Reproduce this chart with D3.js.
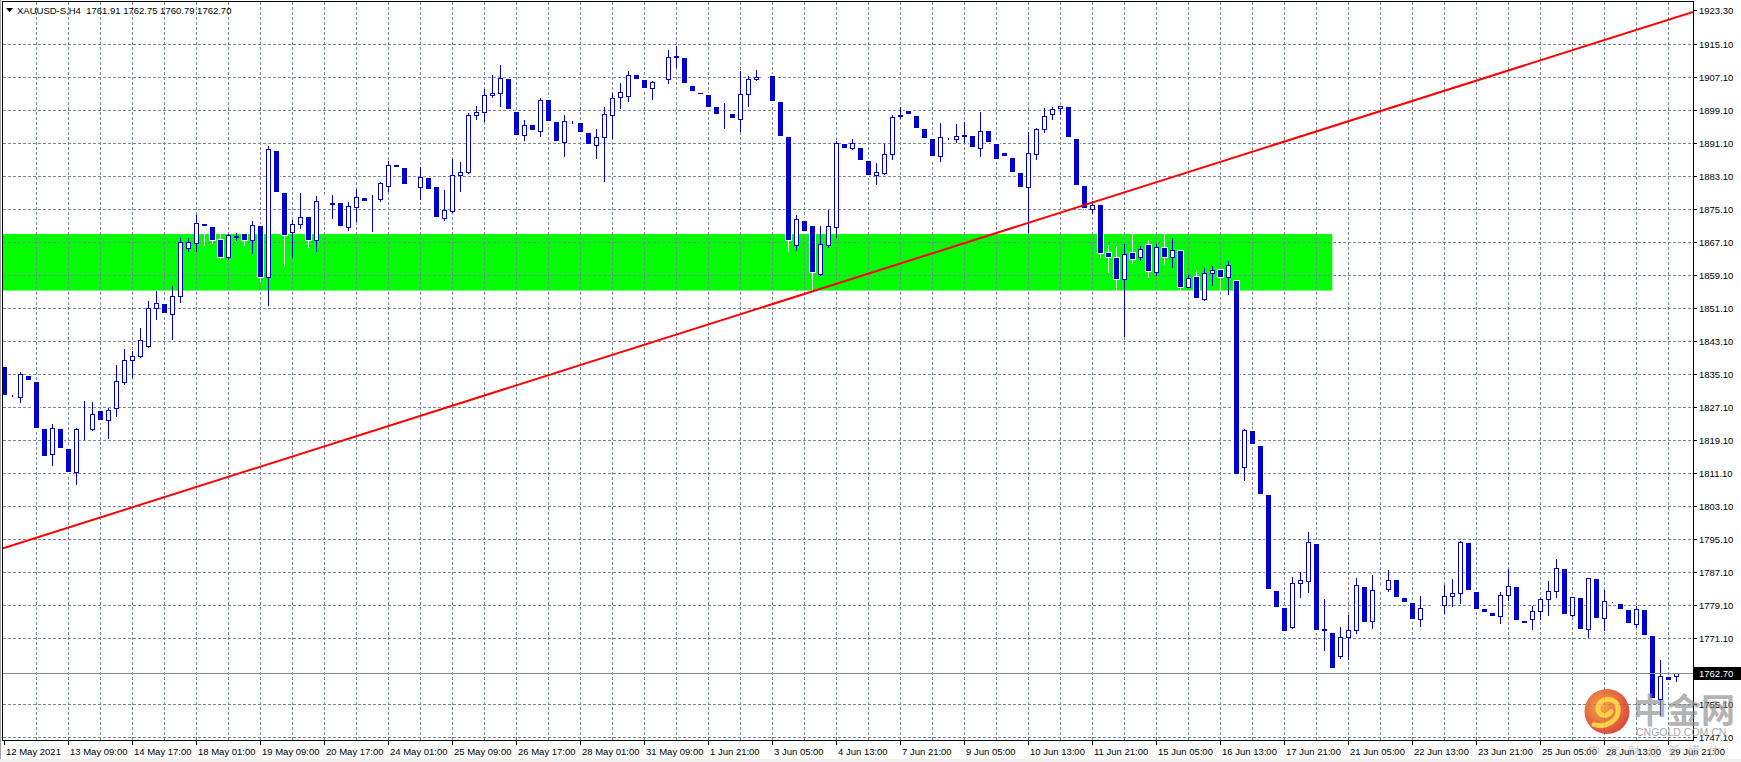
<!DOCTYPE html>
<html><head><meta charset="utf-8">
<script src="https://cdn.jsdelivr.net/npm/d3@7"></script>
<style>html,body{margin:0;padding:0;background:#fff;overflow:hidden}svg{display:block}</style>
</head><body>
<svg id="c" width="1741" height="762"></svg>
<script>
// ---- data (XAUUSD-S, H4) ----
const open = [1836.9,1830.0,1829.5,1834.7,1833.2,1821.8,1815.7,1821.8,1817.0,1811.3,
1821.8,1821.8,1826.2,1823.9,1826.9,1833.3,1838.5,1839.5,1842.0,1851.1,
1852.1,1849.8,1854.2,1865.6,1866.9,1871.5,1870.8,1867.7,1863.6,1868.3,
1869.0,1867.7,1871.1,1858.6,1889.3,1879.0,1869.7,1871.5,1873.2,1867.7,
1877.0,1876.5,1876.6,1870.9,1875.7,1877.8,1877.0,1877.5,1880.8,1885.8,
1885.1,1881.4,1880.6,1882.7,1880.5,1873.1,1874.8,1883.3,1884.1,1897.9,
1898.6,1902.7,1903.2,1906.7,1898.7,1893.0,1895.5,1894.2,1901.6,1896.3,
1891.5,1896.2,1895.9,1893.5,1890.8,1892.6,1897.9,1902.3,1902.5,1907.7,
1906.5,1904.4,1906.1,1906.6,1911.9,1911.7,1905.0,1903.4,1902.8,1899.8,
1898.4,1898.2,1896.9,1903.0,1906.6,1907.3,1907.4,1901.0,1892.6,1866.4,
1872.3,1871.1,1859.5,1866.4,1870.9,1890.9,1889.9,1889.9,1886.8,1883.3,
1884.0,1888.4,1897.6,1898.9,1897.7,1894.6,1892.2,1887.9,1892.3,1892.1,
1892.9,1892.8,1889.9,1894.0,1890.9,1888.7,1887.5,1883.8,1880.4,1888.4,
1894.5,1898.1,1899.6,1899.9,1892.2,1880.8,1875.1,1876.2,1864.6,1863.4,
1858.1,1864.4,1863.5,1866.4,1860.0,1865.8,1863.6,1864.9,1856.3,1858.8,
1853.4,1859.6,1860.3,1858.8,1857.6,1812.7,1821.4,1817.7,1805.8,1782.6,
1778.4,1773.9,1784.4,1785.1,1794.0,1773.1,1772.5,1766.9,1771.3,1773.1,
1783.6,1775.4,1783.0,1783.0,1785.2,1780.9,1779.7,1775.7,1778.6,1779.0,
1779.1,1781.3,1782.2,1794.1,1782.3,1778.2,1777.2,1776.4,1781.5,1783.5,
1775.3,1775.7,1777.6,1780.6,1782.5,1787.9,1776.8,1780.9,1773.3,1785.5,
1775.9,1779.9,1779.4,1778.0,1774.5,1778.0,1771.7,1756.5,1761.6,1761.91];
const high = [1837.5,1830.2,1835.7,1835.2,1833.8,1822.3,1823.0,1822.2,1817.5,1822.2,
1828.6,1828.3,1826.6,1826.9,1837.4,1841.2,1840.8,1846.4,1852.9,1855.3,
1852.6,1856.4,1868.4,1868.1,1873.7,1871.8,1871.0,1869.0,1869.0,1869.3,
1869.3,1872.3,1871.5,1890.5,1890.0,1879.5,1872.5,1879.0,1873.5,1878.3,
1878.0,1878.6,1877.0,1876.9,1879.9,1878.2,1878.6,1881.8,1886.9,1886.2,
1885.5,1882.0,1885.4,1883.2,1881.0,1879.8,1887.2,1886.5,1898.4,1900.1,
1904.2,1907.7,1910.1,1907.2,1899.2,1896.8,1896.0,1902.0,1902.1,1896.7,
1897.9,1896.4,1896.3,1893.9,1894.6,1899.8,1903.2,1905.6,1908.6,1908.1,
1906.9,1906.2,1906.8,1913.7,1914.7,1912.1,1905.4,1903.8,1903.2,1900.2,
1900.8,1898.6,1908.6,1907.4,1908.9,1907.8,1907.8,1901.4,1893.0,1873.7,
1873.0,1871.5,1871.1,1874.9,1891.7,1891.3,1892.1,1890.3,1887.2,1886.3,
1890.9,1898.0,1900.0,1899.3,1898.1,1895.0,1892.6,1896.1,1892.4,1895.8,
1896.3,1893.2,1898.7,1894.4,1891.3,1889.1,1887.9,1884.2,1893.9,1894.9,
1899.7,1900.0,1900.1,1900.3,1892.6,1881.2,1877.1,1876.5,1866.5,1866.1,
1866.7,1869.1,1866.2,1867.7,1866.7,1869.1,1868.1,1865.2,1859.2,1860.5,
1860.8,1861.4,1860.6,1862.6,1858.0,1821.9,1821.8,1818.1,1806.2,1783.0,
1778.8,1785.9,1787.1,1796.8,1794.4,1780.6,1773.0,1773.9,1776.8,1785.8,
1784.0,1786.4,1783.5,1787.7,1785.6,1781.3,1780.1,1781.4,1779.0,1779.4,
1783.9,1785.4,1794.8,1794.5,1782.7,1778.6,1777.6,1782.4,1787.9,1783.9,
1775.7,1778.9,1780.8,1785.0,1790.3,1788.3,1781.1,1781.3,1785.7,1785.9,
1782.8,1780.0,1779.8,1778.4,1779.0,1778.4,1772.1,1765.8,1762.0,1762.75];
const low = [1829.5,1829.8,1828.5,1833.0,1821.5,1814.8,1813.0,1816.8,1811.0,1808.6,
1819.5,1821.6,1823.6,1819.6,1825.1,1832.7,1834.5,1839.4,1841.8,1848.4,
1849.5,1843.7,1852.7,1865.1,1865.1,1866.5,1866.9,1863.4,1863.1,1867.7,
1866.5,1864.4,1857.6,1851.9,1879.0,1861.6,1863.6,1870.6,1865.9,1865.1,
1875.5,1873.1,1870.5,1870.1,1872.3,1876.5,1869.9,1877.0,1879.5,1885.0,
1880.8,1880.5,1877.7,1879.4,1872.8,1872.5,1874.5,1879.6,1884.0,1897.1,
1896.6,1902.4,1900.2,1898.8,1892.7,1891.9,1894.0,1892.9,1896.1,1891.3,
1888.0,1896.0,1893.5,1890.6,1887.6,1882.0,1892.5,1899.7,1901.4,1906.4,
1904.1,1901.8,1905.3,1905.8,1909.7,1905.1,1903.3,1902.8,1899.5,1897.8,
1894.9,1896.8,1894.1,1900.2,1906.5,1906.8,1900.9,1892.4,1865.1,1865.2,
1869.4,1855.7,1859.2,1866.0,1868.5,1889.6,1889.8,1886.6,1883.0,1881.2,
1883.7,1887.3,1897.2,1897.6,1894.4,1892.0,1887.4,1886.7,1892.2,1891.3,
1891.3,1889.6,1888.1,1890.8,1886.9,1887.4,1883.7,1880.1,1869.6,1887.4,
1893.8,1896.9,1898.3,1892.2,1880.5,1875.0,1874.1,1863.6,1860.0,1855.4,
1844.4,1862.2,1862.8,1858.6,1859.2,1861.8,1861.0,1855.3,1856.2,1853.5,
1853.0,1856.8,1855.3,1854.6,1810.5,1809.5,1817.7,1805.6,1782.6,1778.2,
1772.4,1773.5,1781.2,1782.4,1772.6,1768.3,1763.5,1766.4,1766.1,1772.3,
1774.6,1773.5,1782.5,1782.6,1780.7,1779.4,1775.3,1774.1,1778.2,1778.6,
1777.3,1778.9,1779.7,1782.2,1777.8,1777.0,1776.0,1774.9,1780.4,1775.0,
1774.2,1773.4,1775.7,1776.8,1781.0,1776.5,1776.6,1773.0,1771.5,1775.5,
1773.1,1779.8,1777.7,1774.2,1773.8,1771.5,1756.1,1752.4,1760.6,1760.79];
const close = [1830.1,1830.1,1835.1,1833.6,1822.2,1815.4,1822.0,1817.3,1811.5,1821.8,
1821.9,1825.4,1824.1,1826.5,1833.4,1838.5,1839.5,1843.3,1851.1,1852.3,
1850.0,1854.2,1867.1,1867.1,1871.7,1871.1,1867.7,1863.6,1868.9,1868.7,
1867.7,1871.3,1858.6,1889.6,1879.4,1868.9,1871.5,1873.3,1867.7,1877.0,
1877.0,1876.6,1871.1,1875.9,1878.0,1877.0,1877.1,1881.4,1885.8,1885.4,
1881.3,1881.4,1882.9,1879.9,1873.3,1874.9,1883.3,1884.1,1897.9,1898.6,
1902.7,1903.2,1906.9,1899.3,1893.2,1895.6,1894.4,1901.5,1896.6,1891.7,
1896.5,1896.3,1893.9,1891.0,1892.6,1898.1,1902.0,1903.5,1907.6,1906.8,
1904.6,1905.9,1906.1,1911.9,1912.3,1905.6,1903.8,1903.2,1900.0,1898.3,
1898.5,1897.2,1903.0,1906.6,1907.1,1907.3,1901.4,1892.9,1867.7,1872.7,
1869.9,1859.8,1866.6,1871.0,1891.1,1890.0,1891.1,1887.1,1883.4,1884.1,
1888.4,1897.4,1898.0,1898.1,1894.9,1892.5,1887.9,1892.6,1892.4,1892.8,
1893.0,1890.1,1894.2,1891.3,1887.4,1887.9,1884.2,1880.6,1888.7,1894.5,
1897.6,1899.5,1900.1,1892.7,1881.0,1875.5,1876.2,1864.6,1863.5,1858.1,
1864.2,1863.0,1865.4,1860.2,1865.9,1863.6,1865.2,1856.3,1858.4,1853.7,
1859.6,1860.3,1858.8,1861.5,1810.9,1821.6,1818.2,1806.1,1783.1,1778.7,
1772.9,1784.4,1785.2,1794.4,1773.1,1773.3,1764.0,1771.3,1773.1,1784.0,
1775.1,1782.8,1783.0,1785.2,1781.2,1779.9,1775.8,1778.4,1778.6,1779.0,
1781.4,1782.2,1794.4,1782.7,1778.3,1777.5,1776.5,1781.5,1783.7,1775.5,
1774.7,1777.7,1780.6,1782.5,1788.1,1777.0,1781.0,1773.4,1785.6,1776.0,
1780.1,1780.0,1778.2,1774.7,1778.2,1772.0,1756.6,1762.0,1761.1,1762.70];

const timeLabels = ["12 May 2021","13 May 09:00","14 May 17:00","18 May 01:00","19 May 09:00",
"20 May 17:00","24 May 01:00","25 May 09:00","26 May 17:00","28 May 01:00","31 May 09:00",
"1 Jun 21:00","3 Jun 05:00","4 Jun 13:00","7 Jun 21:00","9 Jun 05:00","10 Jun 13:00",
"11 Jun 21:00","15 Jun 05:00","16 Jun 13:00","17 Jun 21:00","21 Jun 05:00","22 Jun 13:00",
"23 Jun 21:00","25 Jun 05:00","28 Jun 13:00","29 Jun 21:00"];
const labelEvery = 8;     // bars between time labels
const gridEvery = 4;      // bars between vertical grid lines
const priceTicks = [1915.10,1907.10,1899.10,1891.10,1883.10,1875.10,1867.10,1859.10,1851.10,
1843.10,1835.10,1827.10,1819.10,1811.10,1803.10,1795.10,1787.10,1779.10,1771.10,1755.10,1747.10];
const topPrice = 1923.30;
const lastPrice = 1762.70;
const zone = {fromBar: -2, toBar: 166, top: 1869.1, bottom: 1855.4};
const trend = [{bar: 0, price: 1793.0}, {bar: 210, price: 1922.3}];
const title = "XAUUSD-S,H4  1761.91 1762.75 1760.79 1762.70";

// ---- layout ----
const L = 3, R = 1693, T = 2, B = 740;
const BLUE = "#0000cd", GRID = "#778899";
const FONT = "'Liberation Sans', Arial, sans-serif";
const n = open.length;
const x = d3.scaleLinear().domain([0, n - 1]).range([4.3, 4.3 + 8 * (n - 1)]);
const y = d3.scaleLinear().domain([1747.1, 1915.1]).range([737.3, 44.3]);
const px = i => Math.floor(x(i)) + 0.5;
const py = v => Math.round(y(v));

const svg = d3.select("#c");
svg.append("rect").attr("width", 1741).attr("height", 762).attr("fill", "#fff");
svg.append("defs").append("clipPath").attr("id", "clip")
  .append("rect").attr("x", L).attr("y", T).attr("width", R - L).attr("height", B - T);
const plot = svg.append("g").attr("clip-path", "url(#clip)");

// green zone
plot.append("rect")
  .attr("x", x(zone.fromBar)).attr("width", x(zone.toBar) - x(zone.fromBar))
  .attr("y", y(zone.top)).attr("height", y(zone.bottom) - y(zone.top))
  .attr("fill", "#00ff00");

// grid
const grid = plot.append("g").attr("stroke", GRID).attr("stroke-width", 1).attr("stroke-dasharray", "3,2");
grid.selectAll("line.h").data(priceTicks).join("line").attr("class", "h")
  .attr("x1", L).attr("x2", R).attr("y1", d => py(d) + 0.5).attr("y2", d => py(d) + 0.5);
const vBars = d3.range(gridEvery, n, gridEvery);
grid.selectAll("line.v").data(vBars).join("line").attr("class", "v")
  .attr("x1", d => px(d)).attr("x2", d => px(d)).attr("y1", T).attr("y2", B);

// candles
const bars = d3.range(n).map(i => ({i, o: open[i], h: high[i], l: low[i], c: close[i]}));
const cg = plot.append("g");
bars.forEach(d => {
  const cx = px(d.i);
  const g = cg.append("g");
  if (d.c > d.o) {
    g.append("line").attr("x1", cx).attr("x2", cx).attr("y1", py(d.h)).attr("y2", py(d.l) + 1)
      .attr("stroke", BLUE).attr("stroke-width", 1);
    const yt = py(d.c), yb = py(d.o);
    g.append("rect").attr("x", cx - 2).attr("width", 4).attr("y", yt + 0.5).attr("height", Math.max(yb - yt, 0))
      .attr("fill", "#fff").attr("stroke", BLUE).attr("stroke-width", 1);
  } else {
    g.append("line").attr("x1", cx).attr("x2", cx).attr("y1", py(d.h)).attr("y2", py(d.l) + 1)
      .attr("stroke", "#fff").attr("stroke-width", 1);
    const yt = py(d.o), yb = py(d.c);
    const hh = Math.max(yb - yt, 1);
    g.append("rect").attr("x", cx - 3.5).attr("width", 7).attr("y", yt - 1).attr("height", hh + 2).attr("fill", "#fff");
    if (d.c < d.o) {
      g.append("rect").attr("x", cx - 2.5).attr("width", 5).attr("y", yt).attr("height", hh).attr("fill", BLUE);
    }
  }
});

// current price line
plot.append("line").attr("x1", L).attr("x2", R)
  .attr("y1", py(lastPrice) + 0.5).attr("y2", py(lastPrice) + 0.5)
  .attr("stroke", GRID).attr("stroke-width", 1);

// trend line
const slope = (trend[1].price - trend[0].price) / (trend[1].bar - trend[0].bar);
const priceAt = b => trend[0].price + slope * (b - trend[0].bar);
const b0 = x.invert(L), b1 = x.invert(R);
plot.append("line").attr("x1", L).attr("x2", R)
  .attr("y1", y(priceAt(b0))).attr("y2", y(priceAt(b1)))
  .attr("stroke", "#ff0000").attr("stroke-width", 2);

// frame
svg.append("line").attr("x1", 0.5).attr("x2", 0.5).attr("y1", 0).attr("y2", 762).attr("stroke", "#a0a0a0");
svg.append("rect").attr("x", L - 0.5).attr("y", T - 0.5).attr("width", R - L + 1).attr("height", B - T + 1)
  .attr("fill", "none").attr("stroke", "#000").attr("stroke-width", 1);
svg.append("rect").attr("x", 0).attr("y", 759).attr("width", 1741).attr("height", 3).attr("fill", "#f0f0f0");

// price axis
const ya = svg.append("g").attr("font-family", FONT).attr("font-size", "9.5px").attr("fill", "#000");
const allTicks = [topPrice].concat(priceTicks);
ya.selectAll("line").data(allTicks).join("line")
  .attr("x1", R).attr("x2", R + 4).attr("y1", d => py(d) + 0.5).attr("y2", d => py(d) + 0.5)
  .attr("stroke", "#000");
ya.selectAll("text").data(allTicks).join("text")
  .attr("x", R + 6).attr("y", d => py(d) + 4).text(d => d.toFixed(2));
// current price box
ya.append("rect").attr("x", R + 1).attr("y", py(lastPrice) - 6).attr("width", 47).attr("height", 13).attr("fill", "#000");
ya.append("text").attr("x", R + 6).attr("y", py(lastPrice) + 4).attr("fill", "#fff").text(lastPrice.toFixed(2));

// time axis
const xa = svg.append("g").attr("font-family", FONT).attr("font-size", "9.5px").attr("fill", "#000");
const labelBars = timeLabels.map((t, k) => ({t, b: k * labelEvery}));
xa.selectAll("line").data(labelBars).join("line")
  .attr("x1", d => px(d.b)).attr("x2", d => px(d.b)).attr("y1", B).attr("y2", B + 5).attr("stroke", "#000");
xa.selectAll("text").data(labelBars).join("text")
  .attr("x", d => px(d.b) + 1.5).attr("y", 755).text(d => d.t);

// title
svg.append("path").attr("d", "M6,8 L13,8 L9.5,12 Z").attr("fill", "#000");
svg.append("text").attr("x", 17).attr("y", 14).attr("font-family", FONT).attr("font-size", "9.5px")
  .attr("xml:space", "preserve").attr("fill", "#000").text(title);

// watermark
const wm = svg.append("g").attr("opacity", 0.85);
const defs = svg.select("defs");
const rg = defs.append("radialGradient").attr("id", "lg").attr("cx", "40%").attr("cy", "40%").attr("r", "65%");
rg.append("stop").attr("offset", "0%").attr("stop-color", "#f39a2a");
rg.append("stop").attr("offset", "100%").attr("stop-color", "#d3261c");
wm.append("circle").attr("cx", 1607).attr("cy", 711.5).attr("r", 22.5).attr("fill", "url(#lg)");
wm.append("path").attr("transform", "translate(1607,711.5)")
  .attr("d", "M-13,13 C-2,17 13,9 11,-4 C9,-15 -7,-15 -9,-4 C-10,4 0,7 4,0")
  .attr("fill", "none").attr("stroke", "#ffc82a").attr("stroke-width", 5).attr("stroke-linecap", "round");
wm.append("text").attr("x", 1633).attr("y", 723).attr("font-family", "'Noto Sans CJK SC', sans-serif")
  .attr("font-size", "34px").attr("font-weight", "bold").attr("fill", "#8a8a8a").attr("opacity", 0.75).text("中金网");
wm.append("text").attr("x", 1636).attr("y", 736).attr("font-family", FONT)
  .attr("font-size", "10.5px").attr("fill", "#9a9a9a").text("CNGOLD.COM.CN");
wm.append("text").attr("x", 1588).attr("y", 756).attr("font-family", "'Noto Sans CJK SC', sans-serif")
  .attr("font-size", "12px").attr("letter-spacing", "8px").attr("fill", "#b0b0b0").attr("opacity", 0.8).text("中文财经新媒体");
</script>
</body></html>
